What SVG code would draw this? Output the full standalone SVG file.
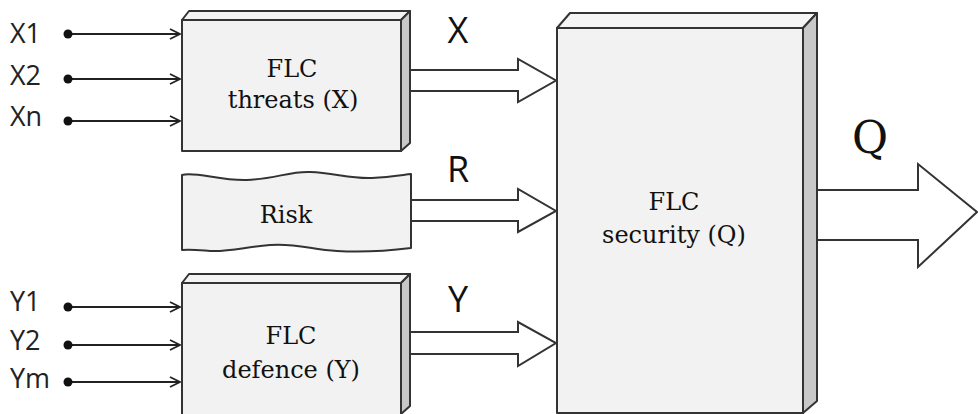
<svg xmlns="http://www.w3.org/2000/svg" width="978" height="414" viewBox="0 0 978 414">
<defs>
<marker id="chev" viewBox="0 0 12 12" refX="11" refY="6" markerWidth="12" markerHeight="12" markerUnits="userSpaceOnUse" orient="auto">
<path d="M1,1 L11,6 L1,11" fill="none" stroke="#222" stroke-width="1.8"/>
</marker>
</defs>
<style>
.front{fill:#f2f2f2;stroke:#333;stroke-width:2;stroke-linejoin:round}
.top{fill:#f4f4f4;stroke:#333;stroke-width:2;stroke-linejoin:round}
.side{fill:#c8c8c8;stroke:#333;stroke-width:2;stroke-linejoin:round}
.big{fill:#fff;stroke:#333;stroke-width:2;stroke-linejoin:miter}
.in{stroke:#222;stroke-width:2.2;fill:none}
.dot{fill:#111}
.lbl{font-family:"Open Sans","Liberation Sans",sans-serif;font-size:27px;fill:#222}
.sig{font-family:"Open Sans","Liberation Sans",sans-serif;font-size:36px;fill:#111;text-anchor:middle}
.box{font-family:"DejaVu Serif","Liberation Serif",serif;font-size:24px;fill:#111;text-anchor:middle}
.q{font-family:"DejaVu Serif","Liberation Serif",serif;font-size:44px;fill:#111;text-anchor:middle}
</style>
<rect width="978" height="414" fill="#fff"/>
<g id="connectors">
<line class="in" x1="68" y1="34" x2="180" y2="34" marker-end="url(#chev)"/>
<line class="in" x1="68" y1="79" x2="180" y2="79" marker-end="url(#chev)"/>
<line class="in" x1="68" y1="121" x2="180" y2="121" marker-end="url(#chev)"/>
<line class="in" x1="68" y1="307" x2="180" y2="307" marker-end="url(#chev)"/>
<line class="in" x1="68" y1="345" x2="180" y2="345" marker-end="url(#chev)"/>
<line class="in" x1="68" y1="382" x2="180" y2="382" marker-end="url(#chev)"/>
<path id="arrow-x" class="big" d="M410,70 H518 V59 L556,80.5 L518,102 V91 H410"/>
<path id="arrow-r" class="big" d="M411,200 H518 V189 L556,211 L518,232 V221 H411"/>
<path id="arrow-y" class="big" d="M410,332 H518 V322 L556,343 L518,366 V354 H410"/>
<path id="arrow-q" class="big" d="M817,190 H918 V164 L977,212 L918,267 V240 H817"/>
<text class="sig" x="458" y="43">X</text>
<text class="sig" x="458" y="182">R</text>
<text class="sig" x="458" y="312">Y</text>
<text class="q" x="870" y="153">Q</text>
</g>
<g id="input-x1"><text class="lbl" x="10" y="43">X1</text><circle class="dot" cx="68" cy="34" r="4.5"/></g>
<g id="input-x2"><text class="lbl" x="10" y="85">X2</text><circle class="dot" cx="68" cy="79" r="4.5"/></g>
<g id="input-xn"><text class="lbl" x="10" y="126">Xn</text><circle class="dot" cx="68" cy="121" r="4.5"/></g>
<g id="input-y1"><text class="lbl" x="10" y="311">Y1</text><circle class="dot" cx="68" cy="307" r="4.5"/></g>
<g id="input-y2"><text class="lbl" x="10" y="350">Y2</text><circle class="dot" cx="68" cy="345" r="4.5"/></g>
<g id="input-ym"><text class="lbl" x="10" y="388">Ym</text><circle class="dot" cx="68" cy="382" r="4.5"/></g>
<g id="flc-threats">
<path class="top" d="M182,20 L189,11 H410 L401,20 Z"/>
<path class="side" d="M401,20 L410,11 V143 L401,151 Z"/>
<rect class="front" x="182" y="20" width="219" height="131"/>
<text class="box" x="292" y="77">FLC</text>
<text class="box" x="293" y="108">threats (X)</text>
</g>
<g id="risk">
<path class="front" d="M182,175 C195,171 220,181 247,180 C275,179 290,171 310,172 C335,173 350,179 372,178 C390,177 402,175 411,174 L411,248 C395,250 370,253 337,251 C310,249 295,243 270,245 C245,247 230,252 210,251 C198,250 190,249 182,250 Z"/>
<text class="box" x="286" y="223">Risk</text>
</g>
<g id="flc-defence">
<path class="top" d="M182,283 L189,274 H410 L401,283 Z"/>
<path class="side" d="M401,283 L410,274 V406 L401,414 Z"/>
<rect class="front" x="182" y="283" width="219" height="140"/>
<text class="box" x="291" y="344">FLC</text>
<text class="box" x="291" y="378">defence (Y)</text>
</g>
<g id="flc-security">
<path class="top" d="M557,28 L570,13 H817 L803,28 Z"/>
<path class="side" d="M803,28 L817,13 V401 L803,413 Z"/>
<rect class="front" x="557" y="28" width="246" height="385"/>
<text class="box" x="674" y="210">FLC</text>
<text class="box" x="674" y="243">security (Q)</text>
</g>
</svg>
